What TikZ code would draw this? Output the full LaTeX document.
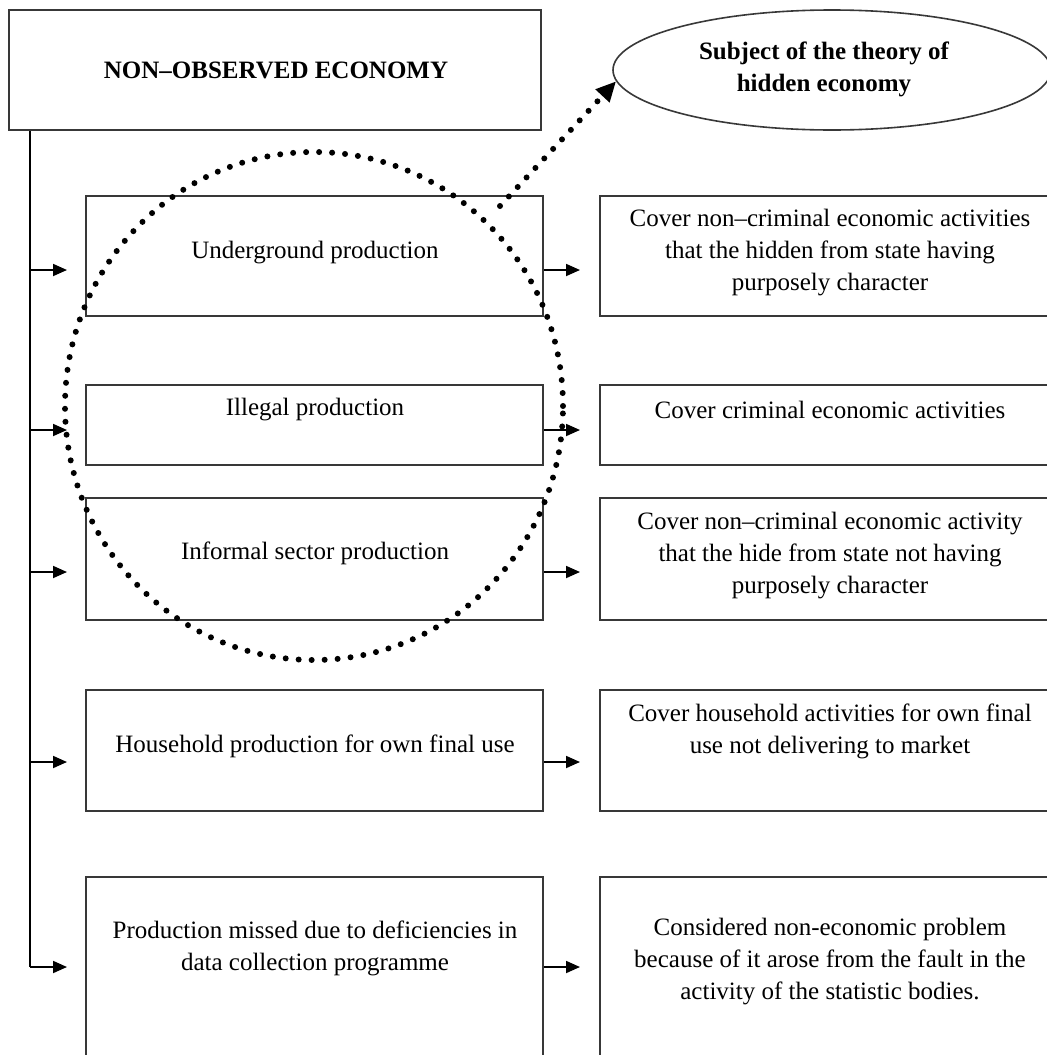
\documentclass[tikz,border=0pt]{standalone}
\usepackage{fontspec}
\setmainfont{Liberation Serif}
\usetikzlibrary{arrows.meta,shapes.geometric,fit}
\begin{document}
\begin{tikzpicture}[x=0.5pt,y=-0.5pt,
  box/.style={draw=black!78, line width=1pt, inner sep=0pt, rectangle},
  txt/.style={align=center, inner sep=0pt, font=\fontsize{12.5}{16}\selectfont},
  btxt/.style={align=center, inner sep=0pt, font=\fontsize{12.5}{16}\selectfont\bfseries},
  arr/.style={-{Triangle[length=7pt,width=6pt]}, line width=0.9pt, black},
  trunk/.style={line width=0.9pt, black},
  dots/.style={line width=3pt, dash pattern=on 0pt off 6.5pt, line cap=round, black},
]
\clip (0,0) rectangle (1047,1055);
\fill[white] (0,0) rectangle (1047,1055);

% top box and ellipse
\node[box, fit={(9,10) (541,130)}] (top) {};
\node[btxt] (toptxt) at (276,70) {NON–OBSERVED ECONOMY};
\node[ellipse, draw=black!78, line width=0.8pt, minimum width=219pt, minimum height=60pt, inner sep=0pt] (subj) at (832,70) {};
\node[btxt] (subjtxt) at (824,69) {Subject of the theory of\\hidden economy};

% left boxes
\node[box, fit={(86,196) (543,316)}] (l1) {};
\node[box, fit={(86,385) (543,465)}] (l2) {};
\node[box, fit={(86,498) (543,620)}] (l3) {};
\node[box, fit={(86,690) (543,811)}] (l4) {};
\node[box, fit={(86,877) (543,1090)}] (l5) {};
% right boxes
\node[box, fit={(600,196) (1070,316)}] (r1) {};
\node[box, fit={(600,385) (1070,465)}] (r2) {};
\node[box, fit={(600,498) (1070,620)}] (r3) {};
\node[box, fit={(600,690) (1070,811)}] (r4) {};
\node[box, fit={(600,877) (1070,1090)}] (r5) {};

% texts
\node[txt] (l1t) at (315,253) {Underground production};
\node[txt] (l2t) at (315,410) {Illegal production};
\node[txt] (l3t) at (315,553) {Informal sector production};
\node[txt] (l4t) at (315,746) {Household production for own final use};
\node[txt] (l5t) at (315,948) {Production missed due to deficiencies in\\data collection programme};
\node[txt] (r1t) at (830,253) {Cover non–criminal economic activities\\that the hidden from state having\\purposely character};
\node[txt] (r2t) at (830,410) {Cover criminal economic activities};
\node[txt] (r3t) at (830,556) {Cover non–criminal economic activity\\that the hide from state not having\\purposely character};
\node[txt] (r4t) at (830,731) {Cover household activities for own final\\use not delivering to market};
\node[txt] (r5t) at (830,962) {Considered non-economic problem\\because of it arose from the fault in the\\activity of the statistic bodies.};

% trunk and arrows
\coordinate (t1) at (30,270);
\coordinate (t2) at (30,430);
\coordinate (t3) at (30,572);
\coordinate (t4) at (30,762);
\coordinate (t5) at (30,967);
\draw[trunk] (top.south -| t1) -- (t5);
\foreach \i in {1,...,5} {
  \draw[arr, shorten >=9pt] (t\i) -- (l\i.west |- t\i);
  \draw[arr, shorten >=9.5pt] (l\i.east |- t\i) -- (r\i.west |- t\i);
}

% dotted oval and dotted arrow
\node[ellipse, dots, draw, minimum width=249pt, minimum height=254pt, inner sep=0pt] (oval) at (314,406) {};
\coordinate (ds) at (500,206);
\draw[dots, -{Triangle[length=10pt,width=9pt]}] (ds) -- (subj.183);
\end{tikzpicture}
\end{document}
